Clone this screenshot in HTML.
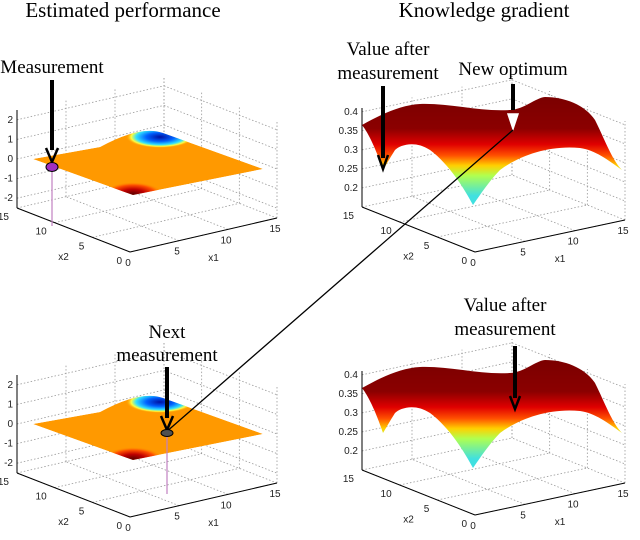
<!DOCTYPE html>
<html><head><meta charset="utf-8"><style>
html,body{margin:0;padding:0;background:#fff;}
svg{display:block;font-family:"Liberation Serif",serif;}
.tk{font-family:"Liberation Sans",sans-serif;font-size:10px;fill:#222;}
.ttl{font-size:21px;fill:#000;}
.ann{font-size:19px;fill:#000;}
</style></head><body>
<svg id="fig" width="640" height="540" viewBox="0 0 640 540">
<defs>
<linearGradient id="kg" gradientUnits="userSpaceOnUse" x1="0" y1="95" x2="0" y2="207">
<stop offset="0" stop-color="#7a0000"/><stop offset="0.3" stop-color="#8b0000"/>
<stop offset="0.44" stop-color="#e00000"/><stop offset="0.54" stop-color="#ff5000"/>
<stop offset="0.63" stop-color="#ffd000"/><stop offset="0.72" stop-color="#b0ff50"/>
<stop offset="0.9" stop-color="#40e0e0"/></linearGradient>
<radialGradient id="blue" cx="0.5" cy="0.5" r="0.5"><stop offset="0" stop-color="#0010a0"/><stop offset="0.4" stop-color="#0060ff"/><stop offset="0.7" stop-color="#30e0ff"/><stop offset="0.85" stop-color="#ffff40"/><stop offset="1" stop-color="#ff9900" stop-opacity="0"/></radialGradient>
<radialGradient id="dred" cx="0.5" cy="0.5" r="0.5"><stop offset="0" stop-color="#600000"/><stop offset="0.4" stop-color="#c00000"/><stop offset="0.75" stop-color="#ff5000"/><stop offset="1" stop-color="#ff9900" stop-opacity="0"/></radialGradient>
<clipPath id="lsc"><path d="M33,159 L100,147 Q140,125 163,133 L263,169 L133,195 Z"/></clipPath>
</defs>
<g id="axes"></g>

<text class="ttl" x="123" y="17" text-anchor="middle">Estimated performance</text>
<text class="ttl" x="484" y="17" text-anchor="middle">Knowledge gradient</text>

<g>
<g clip-path="url(#lsc)"><path d="M33,159 L100,147 Q140,125 163,133 L263,169 L133,195 Z" fill="#ff9900"/>
<ellipse cx="160" cy="137" rx="34" ry="11" fill="url(#blue)"/>
<ellipse cx="133" cy="194" rx="30" ry="12" fill="url(#dred)"/></g>
</g>
<g transform="translate(0,265)">
<g clip-path="url(#lsc)"><path d="M33,159 L100,147 Q140,125 163,133 L263,169 L133,195 Z" fill="#ff9900"/>
<ellipse cx="160" cy="137" rx="34" ry="11" fill="url(#blue)"/>
<ellipse cx="133" cy="194" rx="30" ry="12" fill="url(#dred)"/></g>
</g>

<path fill="url(#kg)" d="M362,125 C380,115 400,105 420,104 C450,103 480,112 510,110 C525,109 535,98 545,97 C565,97 585,105 595,120 C605,140 612,160 622,170 C608,160 595,150 580,148 C550,145 520,155 500,170 C490,180 480,195 473,205 C465,190 450,165 430,150 C415,140 400,145 395,150 C390,158 386,165 383,170 C378,155 370,135 362,125 Z"/>
<path fill="url(#kg)" transform="translate(0,263)" d="M362,125 C380,115 400,105 420,104 C450,103 480,112 510,110 C525,109 535,98 545,97 C565,97 585,105 595,120 C605,140 612,160 622,170 C608,160 595,150 580,148 C550,145 520,155 500,170 C490,180 480,195 473,205 C465,190 450,165 430,150 C415,140 400,145 395,150 C390,158 386,165 383,170 C378,155 370,135 362,125 Z"/>

<text class="ann" x="52" y="73" text-anchor="middle">Measurement</text>
<line x1="52" y1="168" x2="52" y2="226" stroke="#c080c0" stroke-width="1.2"/>
<line x1="52" y1="80" x2="52" y2="150" stroke="#000" stroke-width="4"/>
<path d="M46,148 L52,162 L58,148" fill="none" stroke="#000" stroke-width="2.5"/>
<ellipse cx="52" cy="167" rx="6" ry="4.5" fill="#a030c0" stroke="#000"/>

<text class="ann" x="388" y="55" text-anchor="middle">Value after</text>
<text class="ann" x="388" y="79" text-anchor="middle">measurement</text>
<line x1="383" y1="86" x2="383" y2="158" stroke="#000" stroke-width="4"/>
<path d="M378,155 L383,169 L388,155" fill="none" stroke="#000" stroke-width="2.5"/>

<text class="ann" x="513" y="75" text-anchor="middle">New optimum</text>
<line x1="513" y1="84" x2="513" y2="110" stroke="#000" stroke-width="4"/>
<path d="M508,114 L513,129 L518,114 Z" fill="#fff" stroke="#fff" stroke-width="1.5"/>
<line x1="513" y1="130" x2="165" y2="433" stroke="#000" stroke-width="1.3"/>

<text class="ann" x="167" y="338" text-anchor="middle">Next</text>
<text class="ann" x="167" y="361" text-anchor="middle">measurement</text>
<line x1="167" y1="436" x2="167" y2="494" stroke="#c080c0" stroke-width="1.2"/>
<line x1="167" y1="367" x2="167" y2="418" stroke="#000" stroke-width="4"/>
<path d="M161,416 L167,430 L173,416" fill="none" stroke="#000" stroke-width="2.5"/>
<ellipse cx="167" cy="433" rx="6" ry="3.5" fill="#505050" stroke="#000"/>

<text class="ann" x="505" y="311" text-anchor="middle">Value after</text>
<text class="ann" x="505" y="335" text-anchor="middle">measurement</text>
<line x1="515" y1="346" x2="515" y2="398" stroke="#000" stroke-width="4"/>
<path d="M510,396 L515,409 L520,396" fill="none" stroke="#000" stroke-width="2.5"/>
</svg>
<script>
const NS="http://www.w3.org/2000/svg";
const leftZTicks=["2","1","0","-1","-2"];
const leftZVals=[2,1,0,-1,-2];
const rightZTicks=["0.4","0.35","0.3","0.25","0.2"];
const rightZVals=[0.4,0.35,0.3,0.25,0.2];
const xyTicks=[0,5,10,15];
const panels=[
 {A:[17,208],B:[130,252],C:[277,218],h:98,z0:-2.5,z1:2.5,zv:leftZVals,zt:leftZTicks,dy:0},
 {A:[17,208],B:[130,252],C:[277,218],h:98,z0:-2.5,z1:2.5,zv:leftZVals,zt:leftZTicks,dy:265},
 {A:[362,207],B:[475,252],C:[625,220],h:99,z0:0.15,z1:0.41,zv:rightZVals,zt:rightZTicks,dy:0},
 {A:[362,207],B:[475,252],C:[625,220],h:99,z0:0.15,z1:0.41,zv:rightZVals,zt:rightZTicks,dy:263}];
const g=document.getElementById('axes');
function ln(p,q,dash,name){const l=document.createElementNS(NS,'line');
l.setAttribute('x1',p[0]);l.setAttribute('y1',p[1]);l.setAttribute('x2',q[0]);l.setAttribute('y2',q[1]);
l.setAttribute('stroke',dash?'#999':'#000');l.setAttribute('stroke-width',dash?0.8:1);
if(dash)l.setAttribute('stroke-dasharray','1.5,2');


g.appendChild(l);}
function tx(x,y,s,anchor,name){const t=document.createElementNS(NS,'text');
t.setAttribute('x',x);t.setAttribute('y',y);t.setAttribute('class','tk');t.setAttribute('text-anchor',anchor);t.textContent=s;


g.appendChild(t);}
panels.forEach((P,pi)=>{
 const A=[P.A[0],P.A[1]+P.dy],B=[P.B[0],P.B[1]+P.dy],C=[P.C[0],P.C[1]+P.dy];
 const pr=(x1,x2,z)=>{const zz=(z-P.z0)/(P.z1-P.z0)*P.h;
  return [B[0]+x1/15*(C[0]-B[0])+x2/15*(A[0]-B[0]), B[1]+x1/15*(C[1]-B[1])+x2/15*(A[1]-B[1])-zz];};
 xyTicks.forEach(v=>{
  ln(pr(v,0,P.z0),pr(v,15,P.z0),true,'floor-grid');
  ln(pr(0,v,P.z0),pr(15,v,P.z0),true,'floor-grid');
  ln(pr(v,15,P.z0),pr(v,15,P.z1),true,'wall-grid');
  ln(pr(15,v,P.z0),pr(15,v,P.z1),true,'wall-grid');
 });
 P.zv.forEach((z,i)=>{
  ln(pr(0,15,z),pr(15,15,z),true,'wall-grid');
  ln(pr(15,15,z),pr(15,0,z),true,'wall-grid');
  const p=pr(0,15,z);
  tx(p[0]-4,p[1]+3,P.zt[i],'end','z-tick-label');
 });
 ln(pr(0,15,P.z0),pr(0,15,P.z1),false,'z-axis');
 ln(pr(0,15,P.z0),pr(0,0,P.z0),false,'x2-axis');
 ln(pr(0,0,P.z0),pr(15,0,P.z0),false,'x1-axis');
 xyTicks.forEach(v=>{
  const a=pr(v,0,P.z0);tx(a[0]-2,a[1]+14,String(v),'middle','x1-tick-label');
  const b=pr(0,v,P.z0);tx(b[0]-8,b[1]+12,String(v),'end','x2-tick-label');
 });
 const m1=pr(7.5,0,P.z0);tx(m1[0]+10,m1[1]+26,'x1','middle','x1-axis-title');
 const m2=pr(0,7.5,P.z0);tx(m2[0]-10,m2[1]+30,'x2','middle','x2-axis-title');
});
</script>
</body></html>
